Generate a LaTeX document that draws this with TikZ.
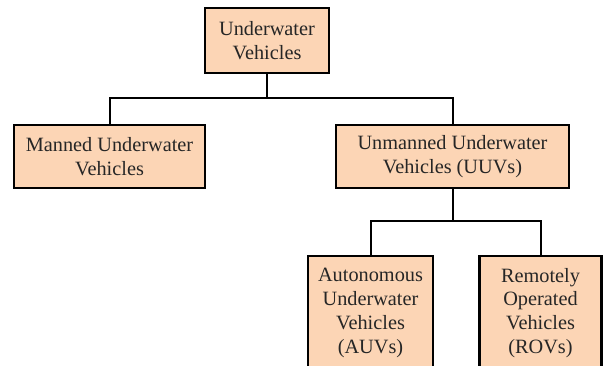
\documentclass[tikz,border=0pt]{standalone}
\usepackage{fontspec}
\setmainfont{Liberation Serif}
\definecolor{peach}{RGB}{252,213,181}
\tikzset{
  box/.style={draw=black, line width=2.2pt, fill=peach, rectangle, inner sep=0pt, align=center,
    font=\fontsize{20.3}{23.8}\selectfont, text=black!85},
  link/.style={draw=black, line width=2pt}
}
\begin{document}
\begin{tikzpicture}[x=1pt,y=1pt]
\useasboundingbox (0,0) rectangle (603,-365);
\begin{scope}
\clip (0,0) rectangle (603,-365);
\node[box, minimum width=124pt, minimum height=65pt] (top) at (267,-40.5) {Underwater\\Vehicles};
\node[box, minimum width=191pt, minimum height=63pt] (manned) at (109.5,-156.5) {Manned Underwater\\Vehicles};
\node[box, minimum width=233pt, minimum height=63pt] (unmanned) at (452.5,-156.5) {Unmanned Underwater\\Vehicles (UUVs)};
\node[box, minimum width=125pt, minimum height=114pt] (auv) at (370.5,-313) {Autonomous\\Underwater\\Vehicles\\(AUVs)};
\node[box, minimum width=122pt, minimum height=114pt] (rov) at (540.5,-313) {Remotely\\Operated\\Vehicles\\(ROVs)};
\end{scope}
\coordinate (j1) at (267,-98);
\coordinate (j2) at (452.5,-221);
\draw[link] (top.south) -- (j1);
\draw[link] (manned.north) |- (j1) -| (unmanned.north);
\draw[link] (unmanned.south) -- (j2);
\draw[link] (auv.north) |- (j2) -| (rov.north);
\end{tikzpicture}
\end{document}
